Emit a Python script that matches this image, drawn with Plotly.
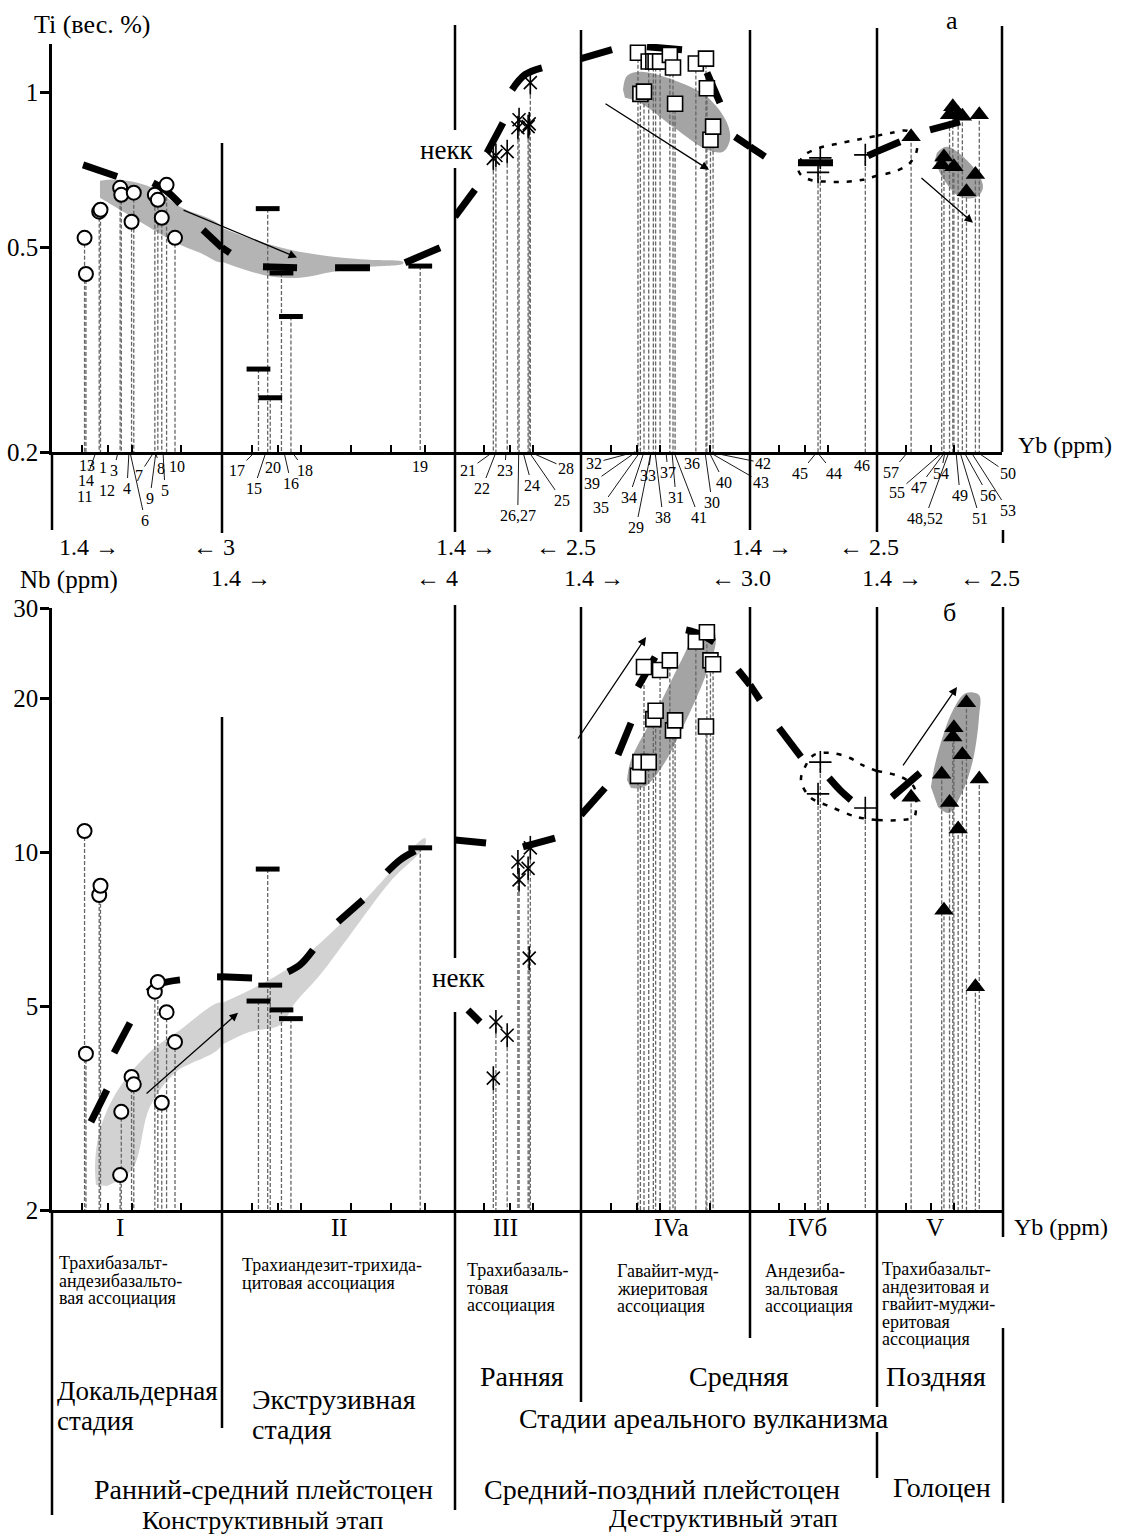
import math
import plotly.graph_objects as go

W, H = 1122, 1539
FONT = "Liberation Serif, Times New Roman, serif"

# ------------------------------------------------------------------ data
SEGMENTS = ["I", "II", "III", "IVa", "IVб", "V"]
YB_MIN = 1.4
YB_MAX = [3.0, 4.0, 2.5, 3.0, 2.5, 2.5]
YB_MAX_LABEL = ["3", "4", "2.5", "3.0", "2.5", "2.5"]
YB_TICKS = [1.6, 1.8, 2.0, 2.5, 3.0, 3.5]
TI_TICKS = [0.2, 0.5, 1]
TI_TICKTEXT = ["0.2", "0.5", "1"]
NB_TICKS = [2, 5, 10, 20, 30]

# samples, segment I (circles)
S1_ID = [13, 14, 11, 12, 1, 3, 4, 6, 7, 9, 8, 5, 10]
S1_YB = [1.62, 1.63, 1.73, 1.74, 1.90, 1.91, 2.00, 2.02, 2.22, 2.25, 2.29, 2.34, 2.43]
S1_TI = [0.522, 0.444, 0.587, 0.592, 0.653, 0.633, 0.561, 0.639, 0.633, 0.619, 0.571, 0.662, 0.522]
S1_NB = [11.0, 4.04, 8.25, 8.6, 2.34, 3.11, 3.64, 3.52, 5.34, 5.58, 3.24, 4.87, 4.26]
# segment II (dashes)
S2_ID = [17, 20, 15, 16, 18, 19]
S2_YB = [1.65, 1.72, 1.74, 1.83, 1.91, 3.42]
S2_TI = [0.29, 0.595, 0.255, 0.446, 0.367, 0.46]
S2_NB = [5.12, 9.27, 5.5, 4.92, 4.73, 10.2]
# segment III (asterisks)
S3_ID = [21, 22, 23, 24, 26, 27, 25, 28]
S3_YB = [1.67, 1.69, 1.78, 1.87, 1.88, 1.96, 1.97, 1.98]
S3_TI = [0.745, 0.755, 0.768, 0.855, 0.886, 0.859, 0.87, 1.046]
S3_NB = [3.62, 4.66, 4.39, 9.57, 8.83, 9.3, 6.21, 10.2]
# segment IVa (squares)
S4_ID = [32, 39, 35, 34, 29, 33, 38, 31, 37, 41, 36, 30, 40, 42, 43]
S4_YB = [1.81, 1.83, 1.86, 1.90, 1.94, 1.96, 2.00, 2.09, 2.12, 2.14, 2.35, 2.46, 2.47, 2.51, 2.54]
S4_TI = [1.196, 0.995, 1.005, 1.15, 1.15, 1.15, 1.15, 1.185, 1.12, 0.952, 1.14, 1.165, 1.02, 0.81, 0.859]
S4_NB = [14.1, 15.0, 23.0, 15.0, 18.2, 18.9, 22.7, 23.7, 17.3, 18.1, 25.8, 17.6, 26.9, 23.7, 23.3]
# segment IVб (crosses)
S5_ID = [45, 44, 46]
S5_YB = [1.91, 1.93, 2.37]
S5_TI = [0.70, 0.747, 0.757]
S5_NB = [13.0, 15.0, 12.2]
# segment V (triangles)
S6_ID = [57, 55, 47, 54, 48, 52, 49, 51, 56, 53, 50]
S6_YB = [1.64, 1.89, 1.91, 1.96, 1.99, 2.00, 2.04, 2.08, 2.12, 2.21, 2.25]
S6_TI = [0.821, 0.724, 0.75, 0.906, 0.939, 0.718, 0.91, 0.9, 0.642, 0.693, 0.906]
S6_NB = [12.8, 14.2, 7.7, 12.5, 16.8, 17.5, 11.1, 15.5, 19.6, 5.46, 13.9]

SAMPLES_YB = [S1_YB, S2_YB, S3_YB, S4_YB, S5_YB, S6_YB]
SAMPLES_TI = [S1_TI, S2_TI, S3_TI, S4_TI, S5_TI, S6_TI]
SAMPLES_NB = [S1_NB, S2_NB, S3_NB, S4_NB, S5_NB, S6_NB]

# bold broken trend line, Ti panel (pieces separated by None), per segment
TREND_TI_YB = [
    [1.609, 1.874, None, 2.202, 2.334, 2.485, None, 2.755, 3.0],
    [1.4, 1.451, None, 1.684, 1.963, None, 2.330, 2.727, None, 3.193, 3.739],
    [1.4, 1.535, None, 1.622, 1.746, None, 1.820, 1.932, 2.089],
    [1.4, 1.610, None, 1.885, 2.208, None, 2.471, 2.620, None, 2.804, 3.0],
    [1.4, 1.499, None, 1.743, 2.045, None, 2.399, 2.5],
    [1.4, 1.558, None, 1.790, 2.057],
]
TREND_TI = [
    [0.724, 0.687, None, 0.668, 0.645, 0.608, None, 0.541, 0.4995],
    [0.4995, 0.488, None, 0.4585, 0.4565, None, 0.4565, 0.4565, None, 0.467, 0.4995],
    [0.574, 0.648, None, 0.764, 0.874, None, 1.014, 1.084, 1.118],
    [1.165, 1.2125, None, 1.229, 1.2125, None, 1.094, 0.956, None, 0.821, 0.785],
    [0.785, 0.751, None, 0.731, 0.731, None, 0.754, 0.768],
    [0.768, 0.803, None, 0.847, 0.878],
]
# bold broken trend line, Nb panel
TREND_NB_YB = [
    [1.667, 1.791, None, 1.849, 1.986, None, 2.153, 2.272, 2.485, None, 2.934, 3.0],
    [1.4, 1.603, None, 1.885, 1.990, 2.110, None, 2.361, 2.643, None, 2.945, 3.122, 3.341],
    [1.4, 1.615, None, 1.914, 2.218, None, 1.486, 1.571],
    [1.4, 1.560, None, 1.654, 1.754, None, 1.810, 1.955, None, 2.248, 2.394, 2.550, None, 2.842, 3.0],
    [1.4, 1.465, None, 1.598, 1.767, None, 2.008, 2.111, 2.220],
    [1.501, 1.709],
]
TREND_NB = [
    [2.973, 3.434, None, 4.055, 4.641, None, 5.335, 5.531, 5.631, None, 5.708, 5.708],
    [5.708, 5.682, None, 5.838, 6.024, 6.444, None, 7.308, 8.069, None, 9.152, 9.659, 10.06],
    [10.57, 10.42, None, 10.24, 10.66, None, 4.919, 4.661],
    [11.82, 13.35, None, 15.49, 17.88, None, 21.03, 24.07, None, 27.18, 26.69, 25.75, None, 22.70, 21.22],
    [21.22, 19.83, None, 17.49, 15.35, None, 13.97, 13.23, 12.65],
    [12.82, 14.28],
]

# grey fields (segment index, Yb outline, value outline)
FIELD_TI_SEG = [0, 1, 3, 5]
FIELD_TI_YB = [
    [1.736, 1.874, 2.172, 2.485, 3.0, 3.0, 2.718, 2.441, 2.077, 1.736],
    [1.4, 1.574, 1.902, 2.309, 2.727, 3.165, 3.165, 2.727, 2.309, 1.990, 1.762, 1.574, 1.4],
    [1.692, 1.723, 1.827, 2.120, 2.471, 2.704, 2.741, 2.656, 2.471, 2.120, 1.827, 1.707],
    [1.849, 1.937, 2.185, 2.289, 2.226, 2.057, 1.893, 1.832],
]
FIELD_TI = [
    [0.6741, 0.6772, 0.6564, 0.6000, 0.5463, 0.4690, 0.4884, 0.5108, 0.5611, 0.6246],
    [0.5463, 0.5223, 0.4950, 0.4798, 0.4734, 0.4690, 0.4649, 0.4585, 0.4483, 0.4365, 0.4385, 0.4504, 0.4690],
    [1.0135, 1.079, 1.099, 1.060, 0.982, 0.874, 0.8102, 0.7677, 0.7746, 0.8586, 0.956, 0.978],
    [0.7643, 0.785, 0.7178, 0.6564, 0.6275, 0.6275, 0.6866, 0.7406],
]
FIELD_TI_COLOR = ["#b4b4b4", "#b4b4b4", "#a4a4a4", "#a0a0a0"]

FIELD_NB_SEG = [0, 1, 3, 5]
FIELD_NB_YB = [
    [1.705, 1.698, 1.736, 1.882, 2.172, 2.485, 3.0, 3.0, 2.430, 2.172, 2.004, 1.791],
    [1.4, 1.661, 1.990, 2.607, 3.494, 3.494, 2.985, 2.493, 2.177, 1.945, 1.818, 1.588, 1.4],
    [1.723, 1.754, 1.972, 2.218, 2.362, 2.527, 2.573, 2.449, 2.218, 2.017, 1.860, 1.754],
    [1.798, 1.841, 1.992, 2.115, 2.247, 2.247, 2.185, 2.077, 1.955, 1.858],
]
FIELD_NB = [
    [2.239, 2.450, 2.868, 3.434, 4.073, 4.497, 5.077, 4.204, 3.706, 3.181, 2.396, 2.229],
    [5.077, 5.507, 6.160, 7.889, 10.66, 10.29, 8.748, 6.893, 5.759, 5.077, 4.598, 4.457, 4.204],
    [13.84, 15.14, 18.96, 24.07, 26.93, 27.42, 25.98, 21.99, 17.57, 14.68, 13.41, 13.35],
    [13.41, 15.14, 18.96, 20.47, 20.29, 18.38, 15.14, 13.06, 11.93, 12.26],
]
FIELD_NB_COLOR = ["#d2d2d2", "#d2d2d2", "#a4a4a4", "#a0a0a0"]

# dotted contour around the IVб group (split between segments IVб and V)
CONTOUR_TI_SEG = [4, 5]
CONTOUR_TI_YB = [
    [2.5, 2.345, 2.180, 1.999, 1.841, 1.759, 1.743, 1.800, 1.927, 2.092, 2.282, 2.5],
    [1.4, 1.501, 1.609, 1.670, 1.685, 1.632, 1.536, 1.4],
]
CONTOUR_TI = [
    [0.6896, 0.6772, 0.6712, 0.6712, 0.6772, 0.6958, 0.7211, 0.7575, 0.7816, 0.7958, 0.8102, 0.8248],
    [0.8248, 0.8360, 0.8435, 0.8175, 0.7746, 0.7306, 0.7052, 0.6896],
]
CONTOUR_NB_SEG = [4, 5]
CONTOUR_NB_YB = [
    [2.5, 2.282, 2.026, 1.841, 1.767, 1.808, 1.875, 2.026, 2.210, 2.335, 2.5],
    [1.4, 1.565, 1.662, 1.678, 1.662, 1.565, 1.4],
]
CONTOUR_NB = [
    [11.56, 11.72, 12.26, 12.82, 13.84, 14.81, 15.49, 15.63, 15.28, 14.81, 14.41],
    [14.41, 14.03, 13.41, 12.26, 11.72, 11.56, 11.56],
]

# thin trend arrows: panel, segment, head Yb, head value
ARROW_PANEL = [0, 0, 0, 1, 1, 1]
ARROW_SEG = [1, 3, 5, 1, 3, 5]
ARROW_YB = [1.963, 2.494, 2.185, 1.505, 1.877, 2.029]
ARROW_VAL = [0.478, 0.708, 0.5585, 4.855, 26.33, 21.03]

# sample numbers along the Yb axis: text, segment, Yb at the axis
LABEL_TEXT = ["13", "14", "11", "1", "3", "12", "4", "6", "7", "9", "8", "5", "10",
              "17", "15", "20", "16", "18", "19",
              "21", "22", "23", "26,27", "24", "25", "28",
              "32", "39", "35", "34", "29", "33", "38", "37", "31", "36", "41", "30", "40", "42", "43",
              "45", "44", "46",
              "57", "55", "47", "54", "48,52", "49", "51", "56", "53", "50"]
LABEL_SEG = [0] * 13 + [1] * 6 + [2] * 7 + [3] * 15 + [4] * 3 + [5] * 10
LABEL_YB = [1.616, 1.705, 1.705, 1.736, 1.882, 1.736, 1.977, 1.986, 2.212, 2.231, 2.222, 2.303, 2.441,
            1.624, 1.707, 1.778, 1.851, 1.919, 3.417,
            1.668, 1.691, 1.770, 1.877, 1.914, 1.968, 1.977,
            1.786, 1.794, 1.827, 1.860, 1.920, 1.920, 1.955, 2.054, 2.110, 2.310, 2.129, 2.449, 2.494, 2.494, 2.494,
            1.901, 1.901, 2.367,
            1.616, 1.901, 1.919, 1.919, 1.955, 2.020, 2.057, 2.096, 2.165, 2.226]

ASSOC_TEXT = [
    ["Трахибазальт-", "андезибазальто-", "вая ассоциация"],
    ["Трахиандезит-трихида-", "цитовая ассоциация"],
    ["Трахибазаль-", "товая", "ассоциация"],
    ["Гавайит-муд-", "жиеритовая", "ассоциация"],
    ["Андезиба-", "зальтовая", "ассоциация"],
    ["Трахибазальт-", "андезитовая и", "гвайит-муджи-", "еритовая", "ассоциация"],
]

# ------------------------------------------------------------------ layout positions (px)
SEG_PX = [(52, 222), (222, 455), (455, 581), (581, 750), (750, 877), (877, 1002)]
TOP_PY = (452, 44)
BOT_PY = (1210, 608)

LABEL_DX = [3, -10, -11, 3, -4, 7, -2, 15, -15, -6, 6, 2, 1,
            -18, -12, -2, 7, 13, 0,
            -25, -14, -1, -1, 9, 33, 36,
            -41, -44, -39, -15, -15, -3, 8, 2, 4, 0, 25, 7, 15, 54, 52,
            -17, 17, -3,
            -17, -46, -26, -4, -24, 4, 20, 24, 37, 31]
LABEL_DY = [13, 28, 44, 15, 18, 38, 36, 68, 23, 46, 16, 38, 14,
            18, 36, 15, 31, 18, 14,
            18, 36, 18, 63, 33, 48, 16,
            11, 31, 55, 45, 75, 23, 65, 20, 45, 11, 65, 50, 30, 11, 30,
            21, 21, 13,
            20, 40, 35, 21, 66, 43, 66, 43, 58, 21]
LABEL_LEADER = [False, True, False, False, True, False, True, True, True, True, True, True, False,
                True, True, False, True, True, False,
                True, True, True, True, True, True, True,
                True, True, True, True, True, True, True, True, True, False, True, True, True, True, True,
                True, True, False,
                True, True, True, True, True, True, True, True, True, True]

ARROW_TAIL = [(-115, -48), (-105, -67), (-53, -46), (-93, 82), (-69, 103), (-55, 80)]


def xa(panel, k):
    n = k + 1 + 6 * panel
    return "x" if n == 1 else f"x{n}"


def ya(panel):
    return "y" if panel == 0 else "y2"


def px(x):
    return x / W


def py(y):
    return 1 - y / H


fig = go.Figure()

# grey fields
for panel, segs, xs_l, ys_l, cols in [
    (0, FIELD_TI_SEG, FIELD_TI_YB, FIELD_TI, FIELD_TI_COLOR),
    (1, FIELD_NB_SEG, FIELD_NB_YB, FIELD_NB, FIELD_NB_COLOR),
]:
    for seg, xs, ys, col in zip(segs, xs_l, ys_l, cols):
        fig.add_trace(go.Scatter(x=xs, y=ys, mode="lines", fill="toself", fillcolor=col,
                                 line=dict(width=0, color=col), line_shape="spline",
                                 xaxis=xa(panel, seg), yaxis=ya(panel), hoverinfo="skip"))

# drop lines from each sample to the Yb axis
for panel, vals, base in [(0, SAMPLES_TI, 0.2), (1, SAMPLES_NB, 2)]:
    for k in range(6):
        xs, ys = [], []
        for xb, v in zip(SAMPLES_YB[k], vals[k]):
            xs += [xb, xb, None]
            ys += [v, base, None]
        fig.add_trace(go.Scatter(x=xs, y=ys, mode="lines",
                                 line=dict(color="#666666", width=1.3, dash="4px,2px"),
                                 xaxis=xa(panel, k), yaxis=ya(panel), hoverinfo="skip"))

# dotted contours
for panel, segs, xs_l, ys_l in [(0, CONTOUR_TI_SEG, CONTOUR_TI_YB, CONTOUR_TI),
                                (1, CONTOUR_NB_SEG, CONTOUR_NB_YB, CONTOUR_NB)]:
    for seg, xs, ys in zip(segs, xs_l, ys_l):
        fig.add_trace(go.Scatter(x=xs, y=ys, mode="lines", line_shape="spline",
                                 line=dict(color="black", width=2.5, dash="5px,8px"),
                                 xaxis=xa(panel, seg), yaxis=ya(panel), hoverinfo="skip"))

# bold broken trend line
for panel, xs_l, ys_l in [(0, TREND_TI_YB, TREND_TI), (1, TREND_NB_YB, TREND_NB)]:
    for k in range(6):
        fig.add_trace(go.Scatter(x=xs_l[k], y=ys_l[k], mode="lines", connectgaps=False,
                                 line=dict(color="black", width=7), line_shape="spline",
                                 xaxis=xa(panel, k), yaxis=ya(panel), hoverinfo="skip"))

# sample markers
MARKER_STYLES = [
    [dict(symbol="circle", size=14, color="white", line=dict(color="black", width=2))],
    [dict(symbol="line-ew", size=17, color="black", line=dict(color="black", width=5))],
    [dict(symbol="x-thin-open", size=13, color="black", line=dict(color="black", width=1.6)),
     dict(symbol="line-ns-open", size=17, color="black", line=dict(color="black", width=1.6))],
    [dict(symbol="square", size=15, color="white", line=dict(color="black", width=1.6))],
    [dict(symbol="cross-thin-open", size=16, color="black", line=dict(color="black", width=1.6))],
    [dict(symbol="triangle-up", size=17, color="black", line=dict(color="black", width=0))],
]
for panel, vals in [(0, SAMPLES_TI), (1, SAMPLES_NB)]:
    for k in range(6):
        for st in MARKER_STYLES[k]:
            fig.add_trace(go.Scatter(x=SAMPLES_YB[k], y=vals[k], mode="markers", marker=st,
                                     cliponaxis=False, xaxis=xa(panel, k), yaxis=ya(panel),
                                     hoverinfo="skip"))

# ------------------------------------------------------------------ axes
layout = dict(width=W, height=H, autosize=False, template="none",
              margin=dict(l=0, r=0, t=0, b=0, pad=0),
              paper_bgcolor="white", plot_bgcolor="rgba(0,0,0,0)", showlegend=False,
              font=dict(family=FONT, color="black", size=18))
for panel in (0, 1):
    for k in range(6):
        n = k + 1 + 6 * panel
        key = "xaxis" if n == 1 else f"xaxis{n}"
        L, R = SEG_PX[k]
        layout[key] = dict(type="log", domain=[px(L), px(R)],
                           range=[math.log10(YB_MIN), math.log10(YB_MAX[k])],
                           anchor=ya(panel), showline=True, linecolor="black", linewidth=2.5,
                           ticks="inside", ticklen=7, tickwidth=2, tickcolor="black",
                           tickmode="array", tickvals=YB_TICKS, showticklabels=False,
                           showgrid=False, zeroline=False, automargin=False, fixedrange=True)
layout["yaxis"] = dict(type="log", domain=[py(TOP_PY[0]), py(TOP_PY[1])],
                       range=[math.log10(0.2), math.log10(0.2) + (TOP_PY[0] - TOP_PY[1]) / 514],
                       anchor="x", showline=True, linecolor="black", linewidth=2.5,
                       ticks="outside", ticklen=9, tickwidth=2.5, tickcolor="black",
                       tickmode="array", tickvals=TI_TICKS, ticktext=TI_TICKTEXT,
                       tickfont=dict(family=FONT, size=25, color="black"), ticklabelstandoff=-3,
                       showgrid=False, zeroline=False, automargin=False, fixedrange=True)
layout["yaxis2"] = dict(type="log", domain=[py(BOT_PY[0]), py(BOT_PY[1])],
                        range=[math.log10(2), math.log10(30)],
                        anchor="x7", showline=True, linecolor="black", linewidth=2.5,
                        ticks="outside", ticklen=9, tickwidth=2.5, tickcolor="black",
                        tickmode="array", tickvals=NB_TICKS, ticktext=[str(v) for v in NB_TICKS],
                        tickfont=dict(family=FONT, size=25, color="black"), ticklabelstandoff=-3,
                        showgrid=False, zeroline=False, automargin=False, fixedrange=True)
fig.update_layout(**layout)

# ------------------------------------------------------------------ frame lines
FRAME_LINES = [
    (52, 452, 530), (222, 143, 533), (455, 25, 130), (455, 168, 532), (581, 30, 532),
    (750, 30, 530), (877, 28, 532), (1002, 26, 452), (1003, 530, 543),
    (52, 1210, 1515), (222, 717, 1428), (455, 605, 958), (455, 1012, 1510), (581, 607, 1402),
    (750, 607, 1338), (877, 607, 1407), (877, 1432, 1478), (1003, 607, 1237), (1003, 1328, 1503),
]
for x, y0, y1 in FRAME_LINES:
    fig.add_shape(type="line", xref="paper", yref="paper", x0=px(x), x1=px(x), y0=py(y0), y1=py(y1),
                  line=dict(color="black", width=2.5))

ann = []


def text(t, x, y, size, anchor="left"):
    ann.append(dict(text=t, xref="paper", yref="paper", x=px(x), y=py(y), showarrow=False,
                    xanchor=anchor, yanchor="middle", font=dict(family=FONT, size=size, color="black")))


# sample numbers
for t, seg, yb, dx, dy, lead in zip(LABEL_TEXT, LABEL_SEG, LABEL_YB, LABEL_DX, LABEL_DY, LABEL_LEADER):
    base = dict(text=t, xref=xa(0, seg), yref="y", x=math.log10(yb), y=math.log10(0.2),
                font=dict(family=FONT, size=16, color="black"))
    if lead:
        base.update(showarrow=True, ax=dx, ay=dy, axref="pixel", ayref="pixel", arrowhead=0,
                    arrowwidth=0.9, arrowcolor="black", standoff=0, startstandoff=0)
    else:
        base.update(showarrow=False, xshift=dx, yshift=-dy)
    ann.append(base)

# thin arrows
for p, seg, yb, v, (axp, ayp) in zip(ARROW_PANEL, ARROW_SEG, ARROW_YB, ARROW_VAL, ARROW_TAIL):
    ann.append(dict(text="", xref=xa(p, seg), yref=ya(p), x=math.log10(yb), y=math.log10(v),
                    showarrow=True, ax=axp, ay=ayp, axref="pixel", ayref="pixel",
                    arrowhead=2, arrowsize=1.3, arrowwidth=1.3, arrowcolor="black", standoff=0))

# axis titles
text("Ti (вес. %)", 32, 25, 26)
text("а", 952, 20, 26, "center")
text("Yb (ppm)", 1016, 445, 24)
text("Nb (ppm)", 18, 580, 25)
text("б", 949, 612, 26, "center")
text("Yb (ppm)", 1012, 1227, 24)
text("некк", 447, 150, 27, "center")
text("некк", 459, 978, 27, "center")

# Yb ranges of the segments
RANGE_POS = [(57, 191, 547), (209, 414, 578), (434, 534, 547), (562, 709, 578), (730, 837, 547), (860, 958, 578)]
for k, (xl, xr, yy) in enumerate(RANGE_POS):
    text(f"{YB_MIN} <b>→</b>", xl, yy, 24)
    text(f"<b>←</b> {YB_MAX_LABEL[k]}", xr, yy, 24)

# segment numerals
NUMERAL_X = [120, 339, 505, 671, 807, 935]
for name, x in zip(SEGMENTS, NUMERAL_X):
    text(name, x, 1227, 25, "center")

# association names
ASSOC_X = [57, 240, 465, 615, 763, 880]
ASSOC_Y = [1263, 1265, 1270, 1271, 1271, 1269]
for lines, x, y0 in zip(ASSOC_TEXT, ASSOC_X, ASSOC_Y):
    for i, line in enumerate(lines):
        text(line, x, y0 + i * 17.5, 18)

# stages
text("Ранняя", 478, 1376, 28)
text("Средняя", 687, 1376, 28)
text("Поздняя", 884, 1376, 28)
text("Докальдерная", 55, 1391, 27)
text("стадия", 55, 1421, 27)
text("Экструзивная", 250, 1399, 28)
text("стадия", 250, 1429, 28)
text("Стадии ареального вулканизма", 517, 1418, 28)
text("Ранний-средний плейстоцен", 92, 1489, 28)
text("Средний-поздний плейстоцен", 482, 1489, 28)
text("Голоцен", 891, 1487, 28)
text("Конструктивный этап", 140, 1520, 26)
text("Деструктивный этап", 607, 1518, 26)

fig.update_layout(annotations=ann)
fig.write_html("out.html", config={"displayModeBar": False},
               post_script="document.body.style.margin='0px';document.body.style.overflow='hidden';")
